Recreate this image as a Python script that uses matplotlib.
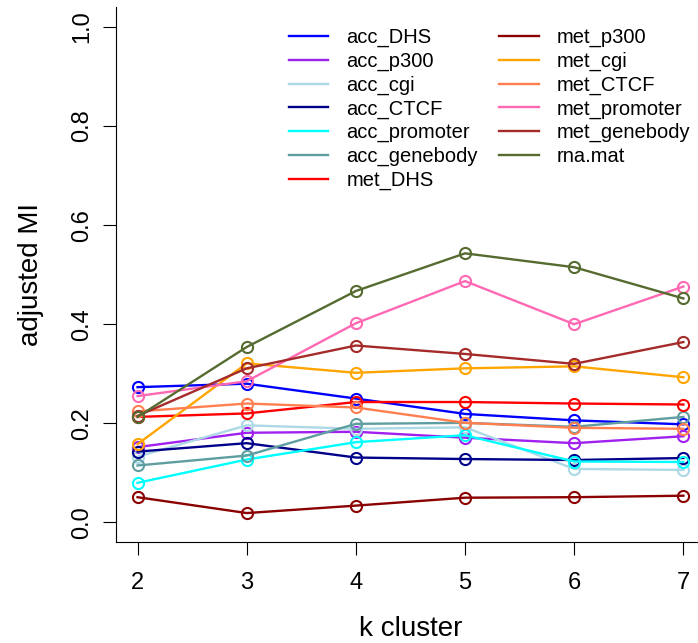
import matplotlib
matplotlib.use("Agg")
import matplotlib.pyplot as plt
from matplotlib.lines import Line2D

plt.rcParams['font.family'] = ['Liberation Sans', 'DejaVu Sans']

k_values = [2, 3, 4, 5, 6, 7]
series_names = ["acc_DHS", "acc_p300", "acc_cgi", "acc_CTCF", "acc_promoter",
                "acc_genebody", "met_DHS", "met_p300", "met_cgi", "met_CTCF",
                "met_promoter", "met_genebody", "rna.mat"]

acc_DHS = [0.273, 0.280, 0.250, 0.219, 0.206, 0.198]
acc_p300 = [0.152, 0.181, 0.183, 0.171, 0.160, 0.174]
acc_cgi = [0.133, 0.196, 0.189, 0.192, 0.108, 0.106]
acc_CTCF = [0.143, 0.160, 0.131, 0.128, 0.126, 0.130]
acc_promoter = [0.080, 0.127, 0.162, 0.176, 0.123, 0.122]
acc_genebody = [0.115, 0.135, 0.199, 0.201, 0.193, 0.213]
met_DHS = [0.213, 0.220, 0.243, 0.243, 0.240, 0.238]
met_p300 = [0.051, 0.019, 0.034, 0.050, 0.051, 0.054]
met_cgi = [0.158, 0.321, 0.302, 0.311, 0.315, 0.293]
met_CTCF = [0.224, 0.240, 0.232, 0.201, 0.191, 0.189]
met_promoter = [0.255, 0.285, 0.402, 0.487, 0.400, 0.476]
met_genebody = [0.215, 0.311, 0.357, 0.340, 0.320, 0.364]
rna_mat = [0.213, 0.354, 0.467, 0.543, 0.515, 0.452]

series_values = [acc_DHS, acc_p300, acc_cgi, acc_CTCF, acc_promoter, acc_genebody,
                 met_DHS, met_p300, met_cgi, met_CTCF, met_promoter, met_genebody, rna_mat]
series_colors = ["#0000FF", "#A020F0", "#ADD8E6", "#00008B", "#00FFFF", "#5F9EA0",
                 "#FF0000", "#8B0000", "#FFA500", "#FF7F50", "#FF69B4", "#A52A2A", "#556B2F"]

y_ticks = [0.0, 0.2, 0.4, 0.6, 0.8, 1.0]
y_ticklabels = ["0.0", "0.2", "0.4", "0.6", "0.8", "1.0"]

fig = plt.figure(figsize=(6.98, 6.43), dpi=100)
W, H = 698.0, 643.0
left_px, right_px, top_px, bottom_px = 115.7, 705.2, 7.0, 542.3
ax = fig.add_axes([left_px / W, 1 - bottom_px / H, (right_px - left_px) / W, (bottom_px - top_px) / H])

for name, vals, col in zip(series_names, series_values, series_colors):
    ax.plot(k_values, vals, color=col, lw=1.7, marker='o', ms=8,
            mfc='none', mec=col, mew=1.5, label=name)

ax.set_xlim(1.8, 7.2)
ax.set_ylim(-0.04, 1.04)
ax.spines['top'].set_visible(False)
ax.spines['right'].set_visible(False)
for s in ('left', 'bottom'):
    ax.spines[s].set_linewidth(0.8)
ax.set_xticks(k_values)
ax.set_xticklabels([str(k) for k in k_values])
ax.set_yticks(y_ticks)
ax.set_yticklabels(y_ticklabels, rotation=90, va='center')
ax.tick_params(axis='both', length=9.5, width=0.8, labelsize=17)
ax.tick_params(axis='x', pad=12)
ax.tick_params(axis='y', pad=7)

ax.set_xlabel("k cluster", fontsize=20, labelpad=16)
ax.set_ylabel("adjusted MI", fontsize=20, labelpad=19)

leg_handles = [Line2D([], [], color=c, lw=1.7) for c in series_colors]
ax_h = bottom_px - top_px
ax.legend(leg_handles, series_names, ncol=2, frameon=False, fontsize=14.5,
          loc='upper left', bbox_to_anchor=((283 - left_px) / (right_px - left_px), 1.0 - 15.0 / ax_h),
          handlelength=1.94, handletextpad=0.91, columnspacing=1.07,
          labelspacing=0.225, borderpad=0.3, borderaxespad=0.0)

fig.savefig("out.png", dpi=100)
